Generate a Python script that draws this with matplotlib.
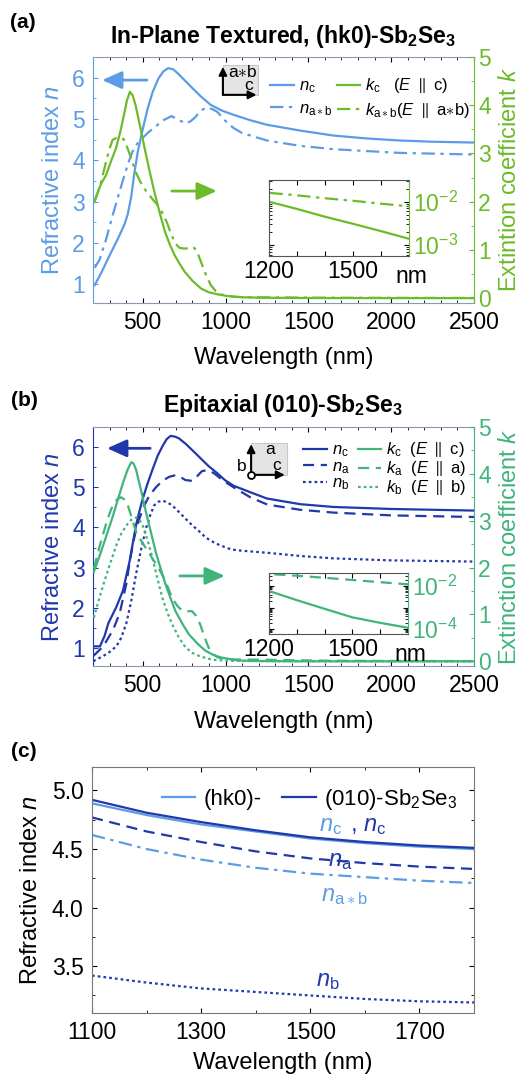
import numpy as np
import matplotlib.pyplot as plt
from matplotlib.patches import Rectangle
from matplotlib.ticker import MultipleLocator

plt.rcParams['font.family'] = ['Liberation Sans', 'DejaVu Sans']
plt.rcParams['mathtext.fontset'] = 'custom'
plt.rcParams['mathtext.rm'] = 'Liberation Sans'
plt.rcParams['mathtext.it'] = 'Liberation Sans:italic'
plt.rcParams['mathtext.bf'] = 'Liberation Sans:bold'

# colours
c_light = '#5c9ce6'
c_green_a = '#6cbb2a'
c_dark = '#2038aa'
c_green_b = '#40b47a'

# ---------- (a) in-plane textured (hk0) ----------
lam_nc_a = [210, 250, 300, 350, 390, 410, 430, 450, 470, 500, 530, 560, 595, 625, 654, 685, 713, 750,
            792, 850, 911, 980, 1049, 1150, 1250, 1450, 1650, 1850, 2050, 2250, 2500]
nc_a = [0.98, 1.28, 1.7, 2.1, 2.45, 2.7, 3.1, 3.7, 4.2, 4.75, 5.25, 5.65, 5.98, 6.15, 6.23, 6.2, 6.1, 5.95,
        5.78, 5.55, 5.34, 5.2, 5.1, 4.97, 4.86, 4.72, 4.6, 4.53, 4.48, 4.45, 4.43]

lam_nab_a = [210, 240, 280, 318, 350, 377, 410, 437, 466, 496, 535, 575, 625, 674, 720, 763, 790, 812,
             850, 881, 920, 951, 1000, 1049, 1100, 1250, 1450, 1650, 2050, 2500]
nab_a = [1.4, 1.6, 2.1, 2.66, 3.1, 3.47, 3.9, 4.2, 4.4, 4.53, 4.68, 4.81, 4.97, 5.07, 4.97, 4.89, 4.95, 5.02,
         5.2, 5.27, 5.24, 5.17, 4.95, 4.78, 4.66, 4.48, 4.35, 4.27, 4.18, 4.14]

lam_kc_a = [210, 250, 279, 310, 338, 365, 387, 405, 423, 440, 457, 485, 516, 545, 575, 605, 634, 665, 693,
            725, 753, 800, 852, 900, 951, 1000, 1049, 1100, 1200, 1300, 1400, 1500, 1600, 1700, 2000, 2500]
kc_a = [2.03, 2.38, 2.55, 2.85, 3.1, 3.45, 3.8, 4.1, 4.28, 4.2, 4.0, 3.55, 3.04, 2.58, 2.14, 1.74, 1.38, 1.1,
        0.89, 0.7, 0.55, 0.36, 0.2, 0.12, 0.08, 0.05, 0.03, 0.018, 0.010, 0.0068, 0.0045, 0.0031, 0.0021,
        0.0014, 0.0007, 0.0003]

lam_kab_a = [210, 230, 249, 279, 300, 318, 340, 367, 385, 397, 420, 437, 460, 486, 520, 555, 585, 615, 645,
             674, 700, 723, 750, 773, 795, 812, 830, 852, 880, 911, 940, 970, 1000, 1049, 1100, 1200, 1300,
             1400, 1500, 1600, 1700, 2000, 2500]
kab_a = [2.0, 2.2, 2.41, 2.83, 3.1, 3.28, 3.32, 3.31, 3.3, 3.21, 3.0, 2.83, 2.6, 2.41, 2.22, 2.07, 1.95, 1.79,
         1.58, 1.31, 1.12, 1.04, 1.03, 1.03, 1.05, 1.04, 0.95, 0.75, 0.5, 0.27, 0.15, 0.08, 0.05, 0.03, 0.022,
         0.016, 0.014, 0.012, 0.0105, 0.009, 0.0078, 0.006, 0.004]

# ---------- (b) epitaxial (010) ----------
lam_nc_b = [202, 242, 270, 292, 341, 381, 421, 440, 460, 480, 500, 530, 560, 590, 619, 645, 669, 695, 718,
            760, 798, 850, 897, 950, 996, 1048, 1135, 1250, 1450, 1650, 2000, 2500]
nc_b = [1.04, 1.04, 1.3, 1.61, 2.02, 2.43, 3.16, 3.6, 4.06, 4.4, 4.71, 5.1, 5.45, 5.78, 6.02, 6.2, 6.28, 6.26,
        6.22, 6.08, 5.93, 5.72, 5.53, 5.35, 5.18, 5.04, 4.9, 4.72, 4.58, 4.51, 4.46, 4.42]

lam_na_b = [202, 262, 321, 361, 401, 420, 440, 460, 480, 510, 540, 580, 619, 660, 698, 730, 758, 798, 830,
            857, 890, 930, 970, 1000, 1048, 1150, 1252, 1450, 1651, 2000, 2500]
na_b = [0.8, 1.04, 1.45, 1.86, 2.59, 3.1, 3.57, 3.95, 4.22, 4.55, 4.79, 5.0, 5.16, 5.26, 5.3, 5.25, 5.18, 5.16,
        5.28, 5.4, 5.43, 5.35, 5.22, 5.13, 5.0, 4.75, 4.57, 4.44, 4.37, 4.3, 4.26]

lam_nb_b = [202, 262, 300, 341, 370, 401, 430, 460, 490, 520, 545, 569, 595, 619, 650, 678, 720, 758, 800,
            837, 880, 936, 990, 1036, 1100, 1250, 1450, 1651, 2000, 2500]
nb_b = [0.67, 0.8, 0.9, 1.04, 1.25, 1.61, 2.15, 2.84, 3.45, 3.98, 4.3, 4.55, 4.64, 4.67, 4.62, 4.55, 4.38,
        4.22, 4.05, 3.92, 3.75, 3.61, 3.52, 3.45, 3.42, 3.37, 3.29, 3.23, 3.18, 3.15]

lam_kc_b = [205, 235, 262, 292, 321, 350, 381, 410, 431, 445, 460, 490, 520, 550, 579, 610, 639, 670, 698,
            740, 778, 830, 877, 930, 976, 1056, 1100, 1200, 1300, 1400, 1500, 1600, 1700, 2000, 2500]
kc_b = [1.91, 2.2, 2.48, 2.8, 3.11, 3.45, 3.81, 4.1, 4.25, 4.22, 4.09, 3.65, 3.18, 2.75, 2.33, 1.96, 1.63,
        1.33, 1.07, 0.8, 0.58, 0.38, 0.23, 0.13, 0.08, 0.03, 0.015, 0.0059, 0.0022, 0.00087, 0.00035,
        0.000195, 0.000115, 0.00005, 0.00002]

lam_ka_b = [205, 242, 282, 310, 331, 350, 371, 390, 411, 435, 460, 490, 520, 560, 590, 619, 650, 678, 710,
            738, 770, 798, 820, 847, 870, 897, 925, 956, 1000, 1036, 1100, 1200, 1300, 1400, 1500, 1600,
            1700, 2000, 2500]
ka_b = [1.98, 2.48, 2.97, 3.25, 3.39, 3.47, 3.5, 3.45, 3.32, 3.05, 2.76, 2.58, 2.41, 2.19, 2.02, 1.84, 1.6,
        1.35, 1.18, 1.08, 1.07, 1.07, 0.98, 0.79, 0.55, 0.3, 0.15, 0.08, 0.05, 0.04, 0.038, 0.036, 0.030,
        0.024, 0.019, 0.015, 0.012, 0.008, 0.005]

lam_kb_b = [205, 230, 262, 300, 341, 370, 401, 430, 460, 480, 500, 530, 560, 590, 619, 650, 678, 720, 758,
            800, 837, 890, 936, 1000, 1100, 1500, 2500]
kb_b = [0.93, 1.25, 1.63, 2.05, 2.48, 2.72, 2.9, 3.02, 3.07, 3.02, 2.9, 2.58, 2.19, 1.75, 1.35, 1.03, 0.79,
        0.5, 0.3, 0.18, 0.12, 0.06, 0.03, 0.015, 0.008, 0.003, 0.001]

# ---------- (c) zoom 1100-1800 nm ----------
lam_c = [1100, 1200, 1300, 1400, 1500, 1600, 1700, 1800]
nc_010 = [4.92, 4.81, 4.73, 4.66, 4.60, 4.56, 4.53, 4.51]
nc_hk0 = [4.89, 4.79, 4.71, 4.65, 4.59, 4.55, 4.52, 4.50]
na_010 = [4.77, 4.65, 4.56, 4.48, 4.42, 4.38, 4.35, 4.33]
nab_hk0 = [4.62, 4.50, 4.41, 4.34, 4.29, 4.26, 4.23, 4.21]
nb_010 = [3.42, 3.36, 3.31, 3.28, 3.25, 3.22, 3.20, 3.19]

dashdot = (0, (6, 2.5, 1.5, 2.5))
dashed = (0, (5, 3))
dotted = (0, (1.2, 1.4))
TS = 16.5  # tick label size
LS = 17    # axis label size
TT = 16.6  # title size


def setup_main(ax, ax2, ncol, kcol, klabel):
    ax.set_xlim(200, 2500)
    ax.set_ylim(0.55, 6.5)
    ax2.set_ylim(-0.1, 5.0)
    ax.xaxis.set_major_locator(MultipleLocator(500))
    ax.xaxis.set_minor_locator(MultipleLocator(100))
    ax.yaxis.set_major_locator(MultipleLocator(1))
    ax.yaxis.set_minor_locator(MultipleLocator(0.5))
    ax2.yaxis.set_major_locator(MultipleLocator(1))
    ax2.yaxis.set_minor_locator(MultipleLocator(0.5))
    ax.tick_params(which='both', direction='in', top=True, labelsize=TS)
    ax.tick_params(axis='x', pad=5.5)
    ax.tick_params(axis='y', which='both', colors=ncol, pad=6)
    ax2.tick_params(which='both', direction='in', colors=kcol, labelsize=TS, pad=3)
    ax.spines['left'].set_color(ncol)
    ax.spines['right'].set_visible(False)
    ax2.spines['left'].set_visible(False)
    ax2.spines['right'].set_color(kcol)
    for s in ['top', 'bottom']:
        ax.spines[s].set_color('#8a98b0')
        ax2.spines[s].set_visible(False)
    ax.set_xlabel('Wavelength (nm)', fontsize=LS, labelpad=10)
    ax.set_ylabel('Refractive index $n$', fontsize=LS, color=ncol, labelpad=6)
    ax2.set_ylabel(klabel, fontsize=LS, color=kcol, labelpad=6)


def setup_inset(ax_in, kcol, ylim, yt, ytl):
    ax_in.set_yscale('log')
    ax_in.set_xlim(1200, 1700)
    ax_in.set_ylim(*ylim)
    ax_in.set_xticks([1200, 1300, 1400, 1500, 1600, 1700])
    ax_in.set_xticklabels(['1200', '', '', '1500', '', ''])
    ax_in.set_yticks(yt)
    ax_in.set_yticklabels(ytl)
    ax_in.tick_params(which='both', direction='in', top=True, right=True, labelleft=False,
                      labelright=True, labelsize=TS, pad=3)
    ax_in.tick_params(axis='y', labelcolor=kcol)
    for s in ['top', 'left', 'bottom']:
        ax_in.spines[s].set_color('#555555')
    ax_in.spines['right'].set_color(kcol)
    ax_in.annotate('nm', xy=(1.02, 0), xycoords='axes fraction', xytext=(0, -6.5),
                   textcoords='offset points', ha='center', va='top', fontsize=TS)


def crystal_icon(ax, x0, y0, w, h, up, right, side=None):
    ax.add_patch(Rectangle((x0, y0), w, h, transform=ax.transAxes, facecolor='#e4e4e4',
                           edgecolor='#c8c8c8', lw=0.8, zorder=5))
    arr = dict(arrowstyle='-|>', color='k', lw=1.5, mutation_scale=12, shrinkA=0, shrinkB=0)
    ax.annotate('', xy=(x0, y0 + h * 0.95), xytext=(x0, y0), xycoords='axes fraction', arrowprops=arr,
                zorder=6)
    ax.annotate('', xy=(x0 + w * 0.95, y0), xytext=(x0, y0), xycoords='axes fraction', arrowprops=arr,
                zorder=6)
    ax.text(x0 + w * 0.55, y0 + h * 0.78, up, transform=ax.transAxes, fontsize=12.5, ha='center',
            va='center', zorder=7)
    ax.text(x0 + w * 0.72, y0 + h * 0.3, right, transform=ax.transAxes, fontsize=12.5, ha='center',
            va='center', zorder=7)
    if side is not None:
        ax.plot([x0], [y0], 'o', ms=5, mfc='white', mec='k', mew=1.3, transform=ax.transAxes, zorder=8)
        ax.text(x0 - 0.012, y0 + h * 0.25, side, transform=ax.transAxes, fontsize=12.5, ha='right',
                va='center', zorder=7)


def big_arrow(ax, x_from, x_to, y, col):
    ax.annotate('', xy=(x_to, y), xytext=(x_from, y), xycoords='axes fraction',
                arrowprops=dict(arrowstyle='-|>,head_width=0.38,head_length=0.85', color=col, lw=2.0,
                                mutation_scale=14, shrinkA=0, shrinkB=0))


fig = plt.figure(figsize=(5.29, 10.77), dpi=100)

# ---------------- panel (a) ----------------
ax_a = fig.add_axes([0.1758, 0.7187, 0.7202, 0.2284])
ax_a2 = ax_a.twinx()
l1, = ax_a.plot(lam_nc_a, nc_a, color=c_light, lw=1.6)
l2, = ax_a.plot(lam_nab_a, nab_a, color=c_light, lw=1.6, ls=dashdot)
l3, = ax_a2.plot(lam_kc_a, kc_a, color=c_green_a, lw=1.6)
l4, = ax_a2.plot(lam_kab_a, kab_a, color=c_green_a, lw=1.6, ls=dashdot)
setup_main(ax_a, ax_a2, c_light, c_green_a, 'Extintion coefficient $k$')
ax_a.set_title('In-Plane Textured, (hk0)-Sb$_\\mathbf{2}$Se$_\\mathbf{3}$', fontsize=TT,
               fontweight='bold', pad=10)
ax_a2.legend([l1, l2, l3, l4],
             ['$n_{\\rm c}$', '$n_{\\rm a\\ast b}$', '$k_{\\rm c}$   ($E$ $\\parallel$ c)',
              '$k_{\\rm a\\ast b}$($E$ $\\parallel$ a$\\ast$b)'],
             ncol=2, loc='upper right', bbox_to_anchor=(1.025, 0.975), frameon=False, fontsize=12,
             handlelength=1.4, handletextpad=0.3, columnspacing=0.3, labelspacing=0.35, borderpad=0.3)
crystal_icon(ax_a2, 0.341, 0.846, 0.093, 0.12, 'a$\\ast$b', 'c')
big_arrow(ax_a2, 0.142, 0.024, 0.906, c_light)
big_arrow(ax_a2, 0.207, 0.325, 0.455, c_green_a)

ins_a = fig.add_axes([0.5085, 0.7623, 0.2647, 0.0706])
ins_a.plot(lam_kc_a, kc_a, color=c_green_a, lw=1.6)
ins_a.plot(lam_kab_a, kab_a, color=c_green_a, lw=1.6, ls=dashdot)
setup_inset(ins_a, c_green_a, (10 ** -3.25, 10 ** -1.5), [1e-3, 1e-2], ['$10^{-3}$', '$10^{-2}$'])

# ---------------- panel (b) ----------------
ax_b = fig.add_axes([0.1758, 0.3816, 0.7202, 0.2219])
ax_b2 = ax_b.twinx()
m1, = ax_b.plot(lam_nc_b, nc_b, color=c_dark, lw=1.6)
m2, = ax_b.plot(lam_na_b, na_b, color=c_dark, lw=1.6, ls=dashed)
m3, = ax_b.plot(lam_nb_b, nb_b, color=c_dark, lw=1.6, ls=dotted)
m4, = ax_b2.plot(lam_kc_b, kc_b, color=c_green_b, lw=1.6)
m5, = ax_b2.plot(lam_ka_b, ka_b, color=c_green_b, lw=1.6, ls=dashed)
m6, = ax_b2.plot(lam_kb_b, kb_b, color=c_green_b, lw=1.6, ls=dotted)
setup_main(ax_b, ax_b2, c_dark, c_green_b, 'Extinction coefficient $k$')
ax_b.set_title('Epitaxial (010)-Sb$_\\mathbf{2}$Se$_\\mathbf{3}$', fontsize=TT, fontweight='bold', pad=11)
ax_b2.legend([m1, m2, m3, m4, m5, m6],
             ['$n_{\\rm c}$', '$n_{\\rm a}$', '$n_{\\rm b}$',
              '$k_{\\rm c}$  ($E$ $\\parallel$ c)', '$k_{\\rm a}$  ($E$ $\\parallel$ a)',
              '$k_{\\rm b}$  ($E$ $\\parallel$ b)'],
             ncol=2, loc='upper right', bbox_to_anchor=(1.015, 1.0), frameon=False, fontsize=12,
             handlelength=1.4, handletextpad=0.3, columnspacing=0.5, labelspacing=0.0, borderpad=0.3)
crystal_icon(ax_b2, 0.415, 0.80, 0.093, 0.135, 'a', 'c', side='b')
big_arrow(ax_b2, 0.15, 0.037, 0.911, c_dark)
big_arrow(ax_b2, 0.228, 0.346, 0.377, c_green_b)

ins_b = fig.add_axes([0.5085, 0.4113, 0.2628, 0.0566])
ins_b.plot(lam_kc_b, kc_b, color=c_green_b, lw=1.6)
ins_b.plot(lam_ka_b, ka_b, color=c_green_b, lw=1.6, ls=dashed)
setup_inset(ins_b, c_green_b, (10 ** -4.23, 10 ** -1.4), [1e-4, 1e-3, 1e-2],
            ['$10^{-4}$', '', '$10^{-2}$'])

# ---------------- panel (c) ----------------
ax_c = fig.add_axes([0.1739, 0.0594, 0.7221, 0.2284])
h1, = ax_c.plot(lam_c, nc_hk0, color=c_light, lw=1.6)
h2, = ax_c.plot(lam_c, nc_010, color=c_dark, lw=1.6)
ax_c.plot(lam_c, na_010, color=c_dark, lw=1.6, ls=dashed)
ax_c.plot(lam_c, nab_hk0, color=c_light, lw=1.6, ls=dashdot)
ax_c.plot(lam_c, nb_010, color=c_dark, lw=1.6, ls=dotted)
ax_c.set_xlim(1100, 1800)
ax_c.set_ylim(3.1, 5.2)
ax_c.set_xticks([1100, 1300, 1500, 1700])
ax_c.xaxis.set_minor_locator(MultipleLocator(100))
ax_c.yaxis.set_major_locator(MultipleLocator(0.5))
ax_c.yaxis.set_minor_locator(MultipleLocator(0.25))
ax_c.yaxis.set_major_formatter('{x:.1f}')
ax_c.tick_params(which='both', direction='in', top=True, right=True, labelsize=TS)
ax_c.tick_params(axis='x', pad=5.5)
ax_c.tick_params(axis='y', pad=6)
for s in ax_c.spines.values():
    s.set_color('#777777')
ax_c.set_xlabel('Wavelength (nm)', fontsize=LS, labelpad=6)
ax_c.set_ylabel('Refractive index $n$', fontsize=LS, labelpad=7)
ax_c.legend([h1, h2], ['(hk0)-', '(010)-Sb$_2$Se$_3$'], ncol=2, loc='upper right',
            bbox_to_anchor=(1.01, 1.0), frameon=False, fontsize=16, handlelength=1.5,
            handletextpad=0.4, columnspacing=0.9)
ax_c.text(1516, 4.70, '$n_{\\rm c}$', color=c_light, fontsize=17, ha='left', va='center')
ax_c.text(1562, 4.70, ' , $n_{\\rm c}$', color=c_dark, fontsize=17, ha='left', va='center')
ax_c.text(1532, 4.40, '$n_{\\rm a}$', color=c_dark, fontsize=17, ha='left', va='center')
ax_c.text(1520, 4.10, '$n_{\\rm a\\ast b}$', color=c_light, fontsize=17, ha='left', va='center')
ax_c.text(1510, 3.37, '$n_{\\rm b}$', color=c_dark, fontsize=17, ha='left', va='center')

fig.text(0.018, 0.988, '(a)', fontsize=15, fontweight='bold', va='top')
fig.text(0.02, 0.637, '(b)', fontsize=15, fontweight='bold', va='top')
fig.text(0.02, 0.311, '(c)', fontsize=15, fontweight='bold', va='top')

fig.savefig('out.png', dpi=100)
